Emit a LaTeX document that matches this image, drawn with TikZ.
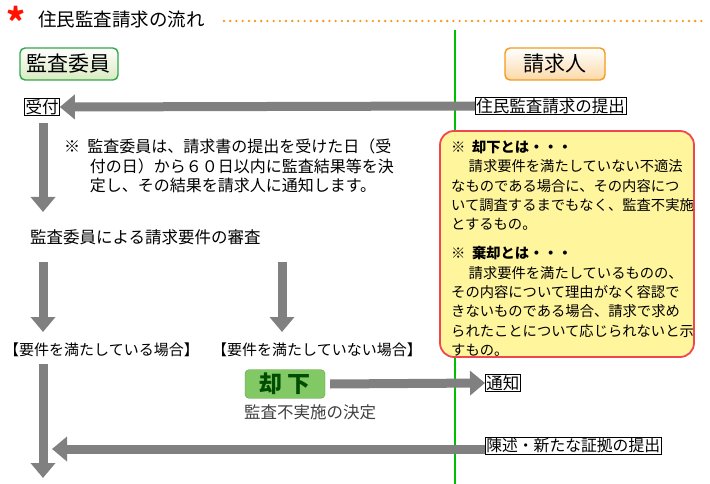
\documentclass[tikz,border=0pt]{standalone}
\usepackage{fontspec}
\setmainfont{Noto Sans CJK JP}
\usetikzlibrary{arrows.meta,shadings}
\definecolor{arr}{HTML}{808080}
\definecolor{ttlgreen}{HTML}{2EA84A}
\definecolor{ora}{HTML}{F39A1E}
\definecolor{lgreen}{HTML}{D9EBC0}
\definecolor{lora}{HTML}{FBD9A8}
\definecolor{kgreen}{HTML}{6CC04A}
\definecolor{ybox}{HTML}{FFF59D}
\definecolor{ybord}{HTML}{F0474F}
\tikzset{
  fat/.style={draw=arr,line width=9pt,-{Triangle[length=15pt,width=24pt]}},
  smallbox/.style={draw,line width=0.6pt,inner sep=1pt,font=\fontsize{16.5}{18}\selectfont},
  txt/.style={font=\fontsize{14.5}{19}\selectfont,align=left,inner sep=0pt},
  head/.style={rounded corners=5pt,line width=1.4pt,inner xsep=4pt,minimum height=32pt,font=\fontsize{21}{24}\selectfont}
}
\begin{document}
\begin{tikzpicture}[x=1pt,y=-1pt]
\useasboundingbox (0,0) rectangle (710,484);
% title
\node (ast) at (16,21) {\textcolor{red!85!orange}{\fontsize{36}{36}\selectfont\bfseries *}};
\node[anchor=west,inner sep=0pt,font=\fontsize{18.5}{20}\selectfont] (title) at (38,19) {住民監査請求の流れ};
\draw[ora,line width=2.6pt,line cap=round,dash pattern=on 0pt off 6.2pt] (224,21) -- (705,21);
% headers
\node[head,draw=ttlgreen,top color=white,bottom color=lgreen,minimum width=98pt] (iin) at (69,64) {監査委員};
\node[head,draw=ora,top color=white,bottom color=lora,minimum width=100pt] (sei) at (555,64) {請求人};
% green line
\draw[green!75!black,line width=2pt] (455,30) -- (455,484);
% 受付
\node[smallbox] (uke) at (42,107) {受付};
\node[smallbox,anchor=west] (teishutsu) at (475,106) {住民監査請求の提出};
\draw[fat] (teishutsu.west) -- (uke.east);
\node[txt,anchor=north west,font=\fontsize{16}{19.5}\selectfont] (note) at (64,139) {※\ \ 監査委員は、請求書の提出を受けた日（受\\\hspace*{1.6em}付の日）から６０日以内に監査結果等を決\\\hspace*{1.6em}定し、その結果を請求人に通知します。};
\coordinate (a1) at (43,212);
\draw[fat] (43,123) -- (a1);
\node[txt,anchor=west,font=\fontsize{16.5}{19}\selectfont] (shinsa) at (30,237) {監査委員による請求要件の審査};
\coordinate (b1) at (43,262); \coordinate (b2) at (43,332);
\coordinate (c1) at (282,262); \coordinate (c2) at (282,332);
\draw[fat] (b1) -- (b2);
\draw[fat] (c1) -- (c2);
\node[txt,anchor=west,font=\fontsize{15}{19}\selectfont] (mitasu) at (4,350) {【要件を満たしている場合】};
\node[txt,anchor=west,font=\fontsize{15}{19}\selectfont] (mitasanai) at (212,350) {【要件を満たしていない場合】};
\coordinate (d1) at (43,364); \coordinate (d2) at (43,478);
\draw[fat] (d1) -- (d2);
% kyakka
\node[draw=kgreen!80!black,fill=kgreen!85,rounded corners=4pt,minimum width=80pt,minimum height=27pt,font=\fontsize{23}{24}\selectfont\bfseries] (kyakka) at (285,384) {\textcolor{green!30!black}{却}\ \textcolor{green!30!black}{下}};
\node[txt,anchor=west,text=black!75,font=\fontsize{16.5}{19}\selectfont] (fujisshi) at (244,412) {監査不実施の決定};
\node[smallbox,anchor=west] (tsuchi) at (485,383) {通知};
\draw[fat] (kyakka.east)+(5,0) -- (tsuchi.west);
\node[smallbox,anchor=west,font=\fontsize{15.8}{18}\selectfont] (chinjutsu) at (485,446) {陳述・新たな証拠の提出};
\coordinate (e1) at (52,449);
\draw[fat] (chinjutsu.west|-0,449) -- (e1);
% yellow box
\node[draw=ybord,fill=ybox,line width=1.8pt,rounded corners=14pt,minimum width=254pt,minimum height=226pt] (ybx) at (567,244) {};
\node[anchor=north west,inner sep=0pt,font=\fontsize{14.3}{19.3}\selectfont,align=left] (ytxt) at (451,140) {\textbf{※\ \ 却下とは・・・}\\\hspace*{1em}\ 請求要件を満たしていない不適法\\なものである場合に、その内容につ\\いて調査するまでもなく、監査不実施\\とするもの。\\[10pt]\textbf{※\ \ 棄却とは・・・}\\\hspace*{1em}\ 請求要件を満たしているものの、\\その内容について理由がなく容認で\\きないものである場合、請求で求め\\られたことについて応じられないと示\\すもの。};
\end{tikzpicture}
\end{document}
